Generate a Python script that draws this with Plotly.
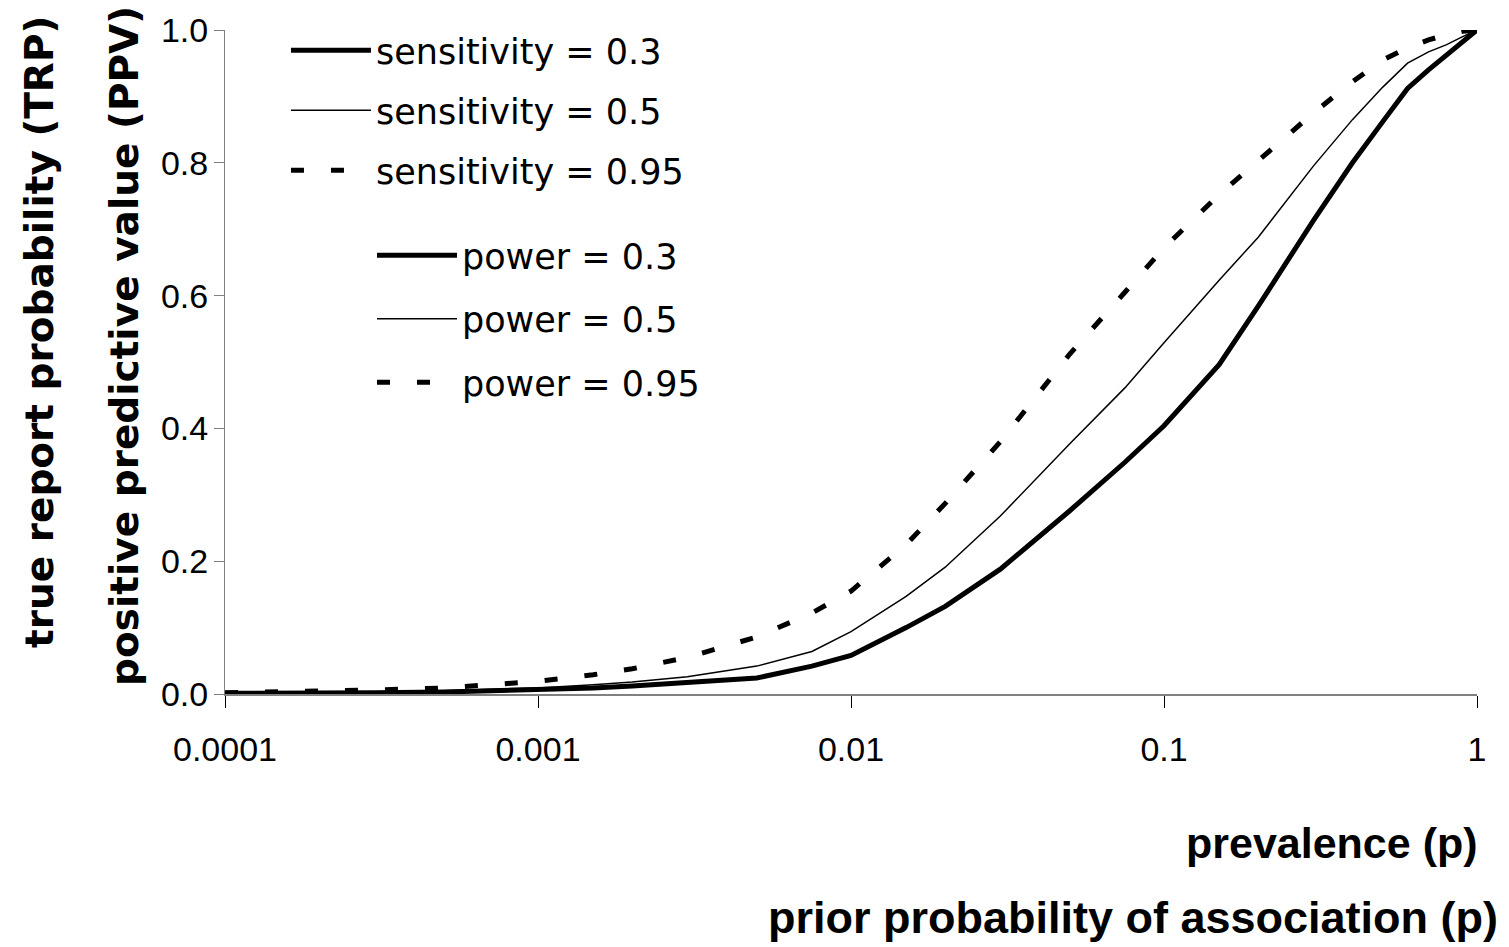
import plotly.graph_objects as go

# prevalence / prior probability (x) values
prevalence = [0.0001, 0.0002, 0.0003, 0.0005, 0.00075, 0.001, 0.0015, 0.002, 0.003,
              0.005, 0.0075, 0.01, 0.015, 0.02, 0.03, 0.05, 0.075, 0.1, 0.15, 0.2,
              0.3, 0.4, 0.5, 0.6, 0.7, 0.8, 0.9, 1.0]

# PPV / TRP values
sens_03 = [0.001, 0.001, 0.002, 0.003, 0.005, 0.006, 0.009, 0.012, 0.017, 0.024,
           0.042, 0.058, 0.100, 0.132, 0.188, 0.276, 0.349, 0.404, 0.496, 0.584,
           0.713, 0.800, 0.862, 0.912, 0.940, 0.962, 0.982, 1.0]
sens_05 = [0.001, 0.002, 0.003, 0.005, 0.007, 0.009, 0.014, 0.018, 0.026, 0.042,
           0.064, 0.094, 0.147, 0.191, 0.268, 0.377, 0.461, 0.529, 0.623, 0.688,
           0.795, 0.865, 0.914, 0.950, 0.967, 0.978, 0.990, 1.0]
sens_095 = [0.002, 0.004, 0.006, 0.009, 0.014, 0.019, 0.029, 0.038, 0.055, 0.086,
            0.122, 0.155, 0.225, 0.287, 0.380, 0.512, 0.605, 0.672, 0.752, 0.803,
            0.875, 0.922, 0.955, 0.973, 0.985, 0.993, 0.998, 1.0]

names_sens = ["sensitivity = 0.3", "sensitivity = 0.5", "sensitivity = 0.95"]
names_power = ["power = 0.3", "power = 0.5", "power = 0.95"]

x_ticks = [0.0001, 0.001, 0.01, 0.1, 1]
x_ticktext = ["0.0001", "0.001", "0.01", "0.1", "1"]
y_ticks = [0, 0.2, 0.4, 0.6, 0.8, 1.0]
y_ticktext = ["0.0", "0.2", "0.4", "0.6", "0.8", "1.0"]

styles = [
    dict(color="black", width=5, dash="solid"),
    dict(color="black", width=1.5, dash="solid"),
    dict(color="black", width=5, dash="13px,27px"),
]
series = [sens_03, sens_05, sens_095]

fig = go.Figure()
for i, (vals, st) in enumerate(zip(series, styles)):
    fig.add_trace(go.Scatter(
        x=prevalence, y=vals, mode="lines", name=names_sens[i],
        line=st, legend="legend", legendgroup="s%d" % i,
        hoverinfo="skip"))
for i, st in enumerate(styles):
    fig.add_trace(go.Scatter(
        x=[None], y=[None], mode="lines", name=names_power[i],
        line=st, legend="legend2", legendgroup="p%d" % i,
        hoverinfo="skip"))

AX_COL = "#808080"
TICK_FONT = dict(family="Liberation Sans, Arial, sans-serif", size=34, color="black")
LEG_FONT = dict(family="DejaVu Sans, sans-serif", size=35, color="black")

fig.update_layout(
    width=1509, height=947,
    margin=dict(l=225, r=32, t=30, b=253),
    paper_bgcolor="white", plot_bgcolor="white",
    showlegend=True,
    legend=dict(x=0.0487, y=1.0135, xanchor="left", yanchor="top",
                font=LEG_FONT, bgcolor="rgba(0,0,0,0)", itemwidth=80,
                traceorder="grouped", tracegroupgap=11.5),
    legend2=dict(x=0.1174, y=0.7048, xanchor="left", yanchor="top",
                 font=LEG_FONT, bgcolor="rgba(0,0,0,0)", itemwidth=80,
                 traceorder="grouped", tracegroupgap=15),
    xaxis=dict(type="log", range=[-4, 0], tickvals=x_ticks, ticktext=x_ticktext,
               ticks="outside", ticklen=12, tickwidth=1, tickcolor="black",
               showline=True, linecolor=AX_COL, linewidth=1.5,
               showgrid=False, zeroline=False, tickfont=TICK_FONT,
               ticklabelstandoff=12),
    yaxis=dict(range=[0, 1], tickvals=y_ticks, ticktext=y_ticktext,
               ticks="outside", ticklen=10, tickwidth=1, tickcolor=AX_COL,
               showline=True, linecolor=AX_COL, linewidth=1,
               showgrid=False, zeroline=False, tickfont=TICK_FONT,
               ticklabelstandoff=-1),
)

TITLE_BOLD = dict(family="Liberation Sans, Arial, sans-serif", size=43, color="black")
TITLE_BOLD2 = dict(family="Liberation Sans, Arial, sans-serif", size=45, color="black")
YTITLE_BOLD = dict(family="DejaVu Sans, sans-serif", size=39, color="black")

fig.add_annotation(text="<b>prevalence (p)</b>", xref="paper", yref="paper",
                   x=1.0024, y=-0.2244, xanchor="right", yanchor="middle",
                   showarrow=False, font=TITLE_BOLD)
fig.add_annotation(text="<b>prior probability of association (p)</b>", xref="paper", yref="paper",
                   x=1.0184, y=-0.3373, xanchor="right", yanchor="middle",
                   showarrow=False, font=TITLE_BOLD2)
fig.add_annotation(text="<b>true report probability (TRP)</b>", xref="paper", yref="paper",
                   x=-0.1478, y=0.5452, xanchor="center", yanchor="middle",
                   textangle=-90, showarrow=False, font=YTITLE_BOLD)
fig.add_annotation(text="<b>positive predictive value (PPV)</b>", xref="paper", yref="paper",
                   x=-0.0807, y=0.524, xanchor="center", yanchor="middle",
                   textangle=-90, showarrow=False, font=YTITLE_BOLD)

fig.write_html("out.html")
